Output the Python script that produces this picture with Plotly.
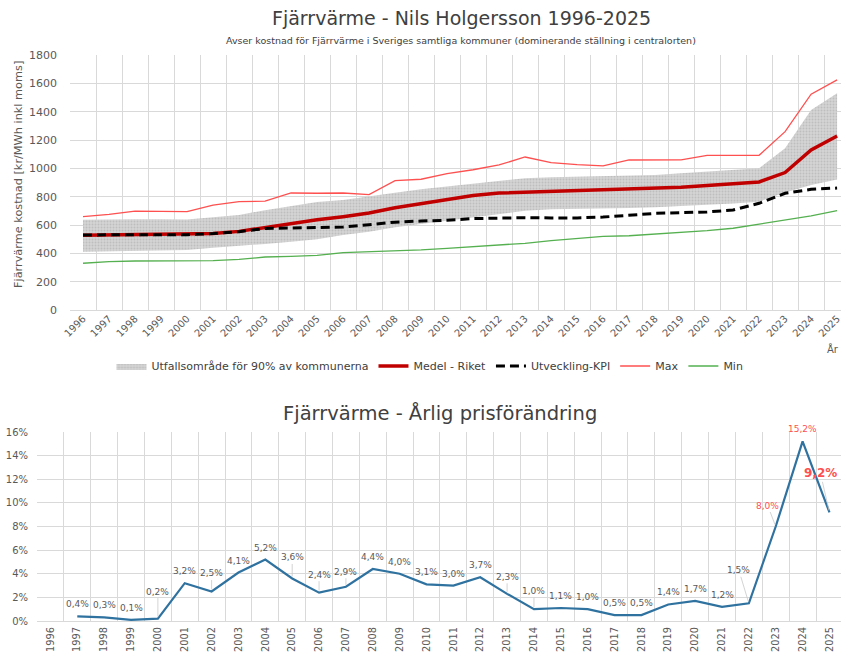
import plotly.graph_objects as go

# ---------------- data ----------------
years = [str(y) for y in range(1996, 2026)]

band_lower = [412, 416, 420, 423, 424, 440, 452, 466, 482, 500, 530, 553, 584, 607, 631,
              655, 680, 700, 711, 713, 718, 720, 725, 733, 742, 752, 765, 830, 883, 922]
band_upper = [637, 640, 640, 640, 638, 654, 670, 705, 735, 762, 777, 800, 828, 852, 871,
              894, 913, 930, 937, 942, 946, 948, 953, 965, 976, 990, 1000, 1141, 1412, 1530]
medel_riket = [527, 529, 530, 531, 533, 540, 555, 584, 610, 637, 659, 685, 722, 750, 778,
               808, 826, 832, 836, 842, 847, 852, 857, 866, 878, 890, 904, 970, 1130, 1228]
utveckling_kpi = [530, 530, 530, 530, 532, 540, 553, 575, 580, 580, 586, 602, 620, 628, 633,
                  645, 651, 652, 650, 650, 656, 668, 682, 687, 692, 706, 753, 824, 852, 861]
max_vals = [659, 675, 698, 694, 694, 740, 765, 768, 826, 824, 826, 814, 913, 923, 962,
            990, 1024, 1080, 1040, 1026, 1017, 1059, 1059, 1060, 1092, 1092, 1092, 1259, 1523, 1624]
min_vals = [330, 341, 346, 347, 347, 348, 357, 374, 378, 385, 405, 410, 415, 424, 435,
            447, 460, 471, 490, 506, 520, 524, 536, 546, 560, 577, 605, 635, 664, 701]

arlig_forandring = [None, 0.4, 0.3, 0.1, 0.2, 3.2, 2.5, 4.1, 5.2, 3.6, 2.4, 2.9, 4.4, 4.0, 3.1,
                    3.0, 3.7, 2.3, 1.0, 1.1, 1.0, 0.5, 0.5, 1.4, 1.7, 1.2, 1.5, 8.0, 15.2, 9.2]

top_yticks = list(range(0, 1801, 200))
bottom_yticks = list(range(0, 17, 2))
bottom_yticktext = [f"{v}%" for v in bottom_yticks]

# ---------------- styling helpers ----------------
W, H = 841, 653
FONT = "DejaVu Sans"
TXT = "#404040"
TICK = "#595959"
GRID = "#d9d9d9"


def px(x):
    return x / W


def py(y):
    return 1 - y / H


# label offsets (pixels) for data labels drawn with leader lines
label_leaders = {
    "2000": (0, -27), "2002": (0, -18), "2005": (0, -21), "2006": (0, -18),
    "2007": (0, -15), "2013": (0, -17), "2014": (0, -18), "2022": (-10, -33),
    "2023": (-8, -21), "2025": (-9, -39),
}
red_labels = {"2023", "2024", "2025"}

fig = go.Figure()

# ---------------- top chart ----------------
fig.add_trace(go.Scatter(x=years, y=band_lower, mode="lines", line=dict(width=0, color="rgba(0,0,0,0)"),
                         showlegend=False, hoverinfo="skip", xaxis="x", yaxis="y"))
fig.add_trace(go.Scatter(x=years, y=band_upper, mode="lines", line=dict(width=0, color="rgba(0,0,0,0)"),
                         fill="tonexty", fillcolor="#d0d0d0",
                         fillpattern=dict(shape=".", fgcolor="#a8a8a8", bgcolor="#d4d4d4", size=3, solidity=0.35),
                         name="Utfallsområde för 90% av kommunerna", xaxis="x", yaxis="y"))
fig.add_trace(go.Scatter(x=years, y=medel_riket, mode="lines", line=dict(color="#c00000", width=3.5),
                         name="Medel - Riket", xaxis="x", yaxis="y"))
fig.add_trace(go.Scatter(x=years, y=utveckling_kpi, mode="lines",
                         line=dict(color="#000000", width=3, dash="9px,5px"),
                         name="Utveckling-KPI", xaxis="x", yaxis="y"))
fig.add_trace(go.Scatter(x=years, y=max_vals, mode="lines", line=dict(color="#ff5050", width=1.3),
                         name="Max", xaxis="x", yaxis="y"))
fig.add_trace(go.Scatter(x=years, y=min_vals, mode="lines", line=dict(color="#55b050", width=1.3),
                         name="Min", xaxis="x", yaxis="y"))

# ---------------- bottom chart ----------------
fig.add_trace(go.Scatter(x=years, y=arlig_forandring, mode="lines", line=dict(color="#2f72a0", width=2.2),
                         showlegend=False, xaxis="x2", yaxis="y2"))

annotations = []
for i, (yr, v) in enumerate(zip(years, arlig_forandring)):
    if v is None:
        continue
    txt = f"{v:.1f}".replace(".", ",") + "%"
    color = "#ff5050" if yr in red_labels else TICK
    size = 9
    if yr == "2025":
        txt = "<b>" + txt + "</b>"
        size = 12
    if yr in label_leaders:
        ax, ay = label_leaders[yr]
        annotations.append(dict(x=i, y=v, xref="x2", yref="y2", text=txt, showarrow=True,
                                ax=ax, ay=ay, arrowhead=0, arrowwidth=0.8, arrowcolor="#c8c8c8",
                                standoff=2, font=dict(family=FONT, size=size, color=color)))
    else:
        annotations.append(dict(x=i, y=v, xref="x2", yref="y2", text=txt, showarrow=False,
                                yshift=12, font=dict(family=FONT, size=size, color=color)))

# titles and texts
annotations += [
    dict(x=px(461), y=py(18), xref="paper", yref="paper", showarrow=False,
         xanchor="center", yanchor="middle",
         text="Fjärrvärme - Nils Holgersson 1996-2025", font=dict(family=FONT, size=19, color=TXT)),
    dict(x=px(461), y=py(41), xref="paper", yref="paper", showarrow=False,
         xanchor="center", yanchor="middle",
         text="Avser kostnad för Fjärrvärme i Sveriges samtliga kommuner (dominerande ställning i centralorten)",
         font=dict(family=FONT, size=9.5, color=TXT)),
    dict(x=px(18), y=py(175), xref="paper", yref="paper", showarrow=False, textangle=-90,
         xanchor="center", yanchor="middle",
         text="Fjärrvärme kostnad [kr/MWh inkl moms]", font=dict(family=FONT, size=11.3, color=TICK)),
    dict(x=1, y=py(349), xref="paper", yref="paper", showarrow=False, xanchor="right", yanchor="middle",
         text="År", font=dict(family=FONT, size=10, color=TICK)),
    dict(x=px(440), y=py(414), xref="paper", yref="paper", showarrow=False,
         xanchor="center", yanchor="middle",
         text="Fjärrvärme - Årlig prisförändring", font=dict(family=FONT, size=19.5, color=TXT)),
]

fig.update_layout(
    width=W, height=H,
    margin=dict(l=0, r=0, t=0, b=0),
    paper_bgcolor="white", plot_bgcolor="white",
    font=dict(family=FONT, color=TICK),
    showlegend=True,
    legend=dict(orientation="h", x=px(430), xanchor="center", y=py(366), yanchor="middle",
                traceorder="normal", font=dict(family=FONT, size=11, color=TXT), itemwidth=30,
                bgcolor="rgba(0,0,0,0)"),
    xaxis=dict(domain=[px(70), 1], anchor="y", type="category", range=[-0.5, 29.15],
               tickson="boundaries", showgrid=True, gridcolor=GRID, gridwidth=1,
               tickangle=-45, tickfont=dict(size=10, color=TICK), ticks="", showline=False,
               zeroline=False, fixedrange=True, automargin=False),
    yaxis=dict(domain=[py(310), py(55)], anchor="x", range=[0, 1800], tickvals=top_yticks,
               showgrid=True, gridcolor=GRID, gridwidth=1, zeroline=True, zerolinecolor=GRID,
               zerolinewidth=1, tickfont=dict(size=11, color=TICK), ticklabelstandoff=12,
               showline=False, fixedrange=True, automargin=False),
    xaxis2=dict(domain=[px(37), 1], anchor="y2", type="category", range=[-0.5, 29.43],
                tickson="boundaries", showgrid=True, gridcolor=GRID, gridwidth=1,
                tickangle=-90, tickfont=dict(size=9.8, color=TICK), ticks="", showline=False,
                ticklabelstandoff=3,
                zeroline=False, fixedrange=True, automargin=False),
    yaxis2=dict(domain=[py(621), py(432)], anchor="x2", range=[0, 16], tickvals=bottom_yticks,
                ticktext=bottom_yticktext, showgrid=True, gridcolor=GRID, gridwidth=1, zeroline=True,
                zerolinecolor=GRID, zerolinewidth=1, tickfont=dict(size=10, color=TICK),
                ticklabelstandoff=8, showline=False, fixedrange=True, automargin=False),
    annotations=annotations,
)

fig.write_html("out.html", config={"displayModeBar": False},
               post_script="document.body.style.margin='0';document.body.style.padding='0';")
